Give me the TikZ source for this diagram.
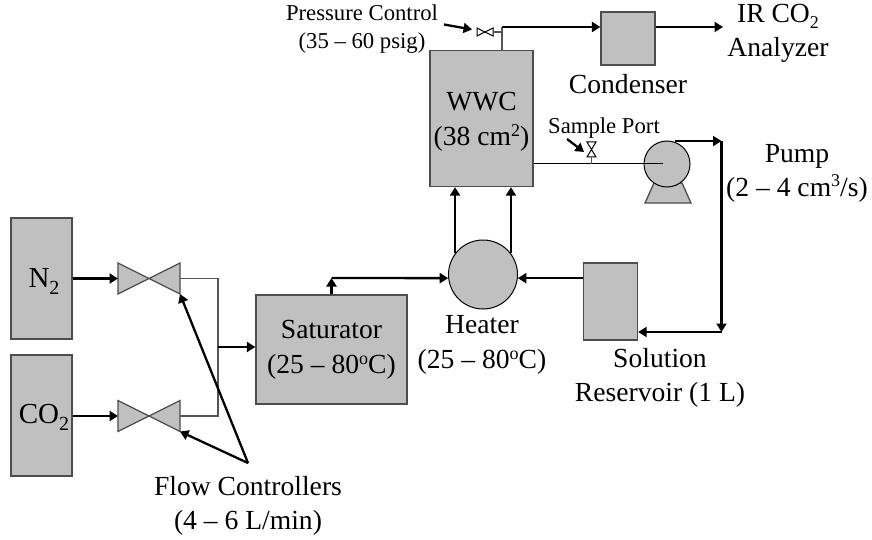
\documentclass[tikz,border=0pt]{standalone}
\usepackage{fontspec}
\setmainfont{Liberation Serif}
\usetikzlibrary{arrows.meta}
\definecolor{unitfill}{HTML}{C0C0C0}
\definecolor{unitedge}{HTML}{4D4D4D}
\definecolor{pipegray}{HTML}{555555}
\newcommand{\mydn}[1]{\raisebox{-7pt}{\fontsize{20}{20}\selectfont #1}}
\newcommand{\mydnsm}[1]{\raisebox{-6pt}{\fontsize{18}{18}\selectfont #1}}
\newcommand{\myup}[1]{\raisebox{9.5pt}{\fontsize{18}{18}\selectfont #1}}
\tikzset{
  x=1pt,y=-1pt,
  unit/.style={draw=unitedge,line width=1.3pt,fill=unitfill,inner sep=0pt},
  roundunit/.style={draw=black,line width=1pt,fill=unitfill,inner sep=0pt,circle},
  tag/.style={inner sep=0pt,align=center,font=\fontsize{27.6}{34}\selectfont},
  widetag/.style={inner sep=0pt,align=center,font=\fontsize{27.6}{35.5}\selectfont},
  bigtag/.style={inner sep=0pt,align=center,font=\fontsize{29}{34}\selectfont},
  smalltag/.style={inner sep=0pt,align=center,font=\fontsize{22.7}{28}\selectfont},
  flow/.style={black,line width=2.3pt,-{Triangle[length=8.5pt,width=10pt]}},
  thinpipe/.style={pipegray,line width=1.2pt},
  valvebox/.style={inner sep=0pt,outer sep=0pt},
  bowtie/.style={draw=unitedge,line width=1.3pt,fill=unitfill,line join=miter},
  smallbowtie/.style={draw=black,line width=1pt,fill=white},
}
\begin{document}
\begin{tikzpicture}
\useasboundingbox (0,0) rectangle (872,540);
% units
\node[unit,minimum width=61pt,minimum height=121pt] (n2) at (41.5,278.5) {};
\node[unit,minimum width=61pt,minimum height=121pt] (co2) at (41.5,415.5) {};
\node[unit,minimum width=151pt,minimum height=109pt] (sat) at (331.5,349.5) {};
\node[unit,minimum width=103pt,minimum height=136pt] (wwc) at (481.5,118.5) {};
\node[unit,minimum width=54pt,minimum height=53pt] (cond) at (628,38.5) {};
\node[unit,minimum width=54pt,minimum height=77pt] (res) at (610.5,301.5) {};
\node[roundunit,minimum size=69pt] (heat) at (483,274.5) {};
% valves
\node[valvebox,minimum width=62pt,minimum height=31pt] (v1) at (149,278.5) {};
\node[valvebox,minimum width=62pt,minimum height=31pt] (v2) at (149,416) {};
\draw[bowtie] (v1.south west)--(v1.north east)--(v1.south east)--(v1.north west)--cycle;
\draw[bowtie] (v2.south west)--(v2.north east)--(v2.south east)--(v2.north west)--cycle;
\node[valvebox,minimum width=16pt,minimum height=8pt] (pv) at (485,32) {};
\draw[smallbowtie] (pv.south west)--(pv.north east)--(pv.south east)--(pv.north west)--cycle;
\node[valvebox,minimum width=9pt,minimum height=15pt] (sv) at (591.5,149.5) {};
\draw[smallbowtie] (sv.north west)--(sv.north east)--(sv.south west)--(sv.south east)--cycle;
% pump
\coordinate (pumpfootl) at (645,203);
\coordinate (pumpfootr) at (691,203);
\coordinate (pumpneckl) at (654,183);
\coordinate (pumpneckr) at (682,183);
\draw[bowtie] (pumpneckl)--(pumpfootl)--(pumpfootr)--(pumpneckr)--cycle;
\node[roundunit,minimum size=46pt] (pump) at (667,164) {};
% free points
\coordinate (junction) at (218,347);
\coordinate (j1) at (218,278.5);
\coordinate (j2) at (218,416);
\coordinate (satbend) at (sat.north |- 0,278);
\coordinate (wwctap) at (502,50.5);
\coordinate (pbend) at (502,27);
\coordinate (pvtee) at (502,32);
\coordinate (pumpin) at (663,164);
\coordinate (svtee) at (591.5,164);
\coordinate (pumpout) at (675,141);
\coordinate (pumpcorner) at (721.5,141);
\coordinate (rescorner) at (721.5,332);
\coordinate (irend) at (723,27);
\coordinate (fcapex) at (248,463);
\coordinate (preslabel) at (444,24.5);
\coordinate (prestip) at (472,29.5);
\coordinate (sampletail) at (567,139);
\coordinate (sampletip) at (584,152);
% gas side
\draw[flow] (n2.east |- v1) -- (v1.west);
\draw[flow] (co2.east |- v2) -- (v2.west);
\draw[thinpipe] (v1.east) -- (j1) -- (j2) -- (v2.east);
\draw[flow] (junction) -- (sat.west |- junction);
\draw[flow] (sat.north) -- (satbend);
\draw[flow] (satbend) -- (heat.186);
\draw[flow] (res.west |- heat.354) -- (heat.354);
\draw[flow] (heat.143) -- (heat.143 |- wwc.south);
\draw[flow] (heat.37) -- (heat.37 |- wwc.south);
% top line
\draw[thinpipe] (wwctap) -- (pbend);
\draw[thinpipe] (pv.east) -- (pvtee);
\draw[flow] (pbend) -- (cond.west |- pbend);
\draw[flow] (cond.east |- pbend) -- (irend);
% liquid line
\draw[black,line width=1pt] (wwc.east |- pumpin) -- (pumpin);
\draw[thinpipe] (sv.south) -- (svtee);
\draw[flow] (pumpout) -- (pumpcorner);
\draw[flow] (pumpcorner) -- (rescorner);
\draw[flow] (rescorner) -- (res.east |- rescorner);
% callouts
\draw[flow] (fcapex) -- (v1.south east);
\draw[flow] (fcapex) -- (v2.south east);
\draw[flow] (preslabel) -- (prestip);
\draw[flow] (sampletail) -- (sampletip);
% labels
\node[bigtag] (ln) at (44,282) {N\mydn{2}};
\node[bigtag] (lco) at (44,417) {CO\mydn{2}};
\node[widetag] (lsat) at (331.5,350) {Saturator\\(25 – 80\myup{o}C)};
\node[widetag] (lw) at (481.5,122) {WWC\\(38 cm\myup{2})};
\node[smalltag] (lp) at (362,29) {Pressure Control\\(35 – 60 psig)};
\node[smalltag] (ls) at (604,128) {Sample Port};
\node[tag] (lc) at (628,84) {Condenser};
\node[tag] (lir) at (778,33) {IR CO\mydnsm{2}\\Analyzer};
\node[tag] (lpu) at (797,173) {Pump\\(2 – 4 cm\myup{3}/s)};
\node[widetag] (lh) at (482,345) {Heater\\(25 – 80\myup{o}C)};
\node[tag] (lr) at (660,378) {Solution\\Reservoir (1 L)};
\node[tag] (lf) at (248,506) {Flow Controllers\\(4 – 6 L/min)};
\end{tikzpicture}
\end{document}
